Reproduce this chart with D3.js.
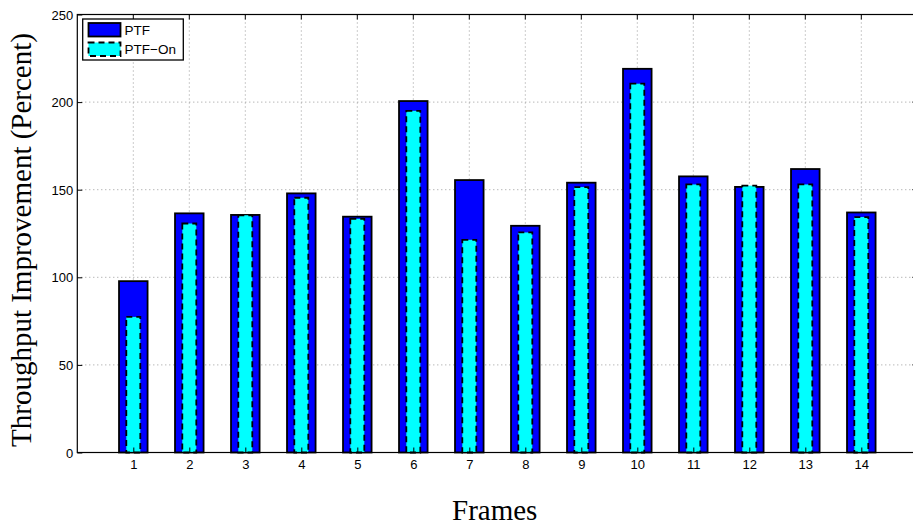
<!DOCTYPE html>
<html>
<head>
<meta charset="utf-8">
<script src="https://cdn.jsdelivr.net/npm/d3@7"></script>
<style>
  body { margin: 0; background: #fff; }
  svg { display: block; }
</style>
</head>
<body>
<div id="chart"></div>
<script>
// data
var frames = [1, 2, 3, 4, 5, 6, 7, 8, 9, 10, 11, 12, 13, 14];
var ptf = [97.8, 136.5, 135.6, 147.9, 134.6, 200.6, 155.5, 129.4, 154, 219, 157.6, 151.6, 161.8, 137];
var ptfOn = [77.4, 130.7, 135.4, 145.4, 133.4, 195, 121.4, 125.6, 151.5, 210.5, 153, 152.3, 153, 134.4];
var yTicks = [0, 50, 100, 150, 200, 250];
var seriesNames = ["PTF", "PTF\u2212On"];

var width = 913, height = 529;
var plotL = 77.3, plotT = 14.5, plotB = 452.5;
var plotR = plotL + 15 * 56; // box edge runs past the window

var svg = d3.select("#chart").append("svg")
    .attr("width", width)
    .attr("height", height);

var x = d3.scaleLinear().domain([0, 15]).range([plotL, plotR]);
var y = d3.scaleLinear().domain([0, 250]).range([plotB, plotT]);

// dotted grid
var grid = svg.append("g")
    .attr("stroke", "#999")
    .attr("stroke-width", 1)
    .attr("stroke-dasharray", "1,3");
grid.selectAll("line.gx")
    .data(frames)
    .enter().append("line")
    .attr("x1", d => x(d)).attr("x2", d => x(d))
    .attr("y1", plotT).attr("y2", plotB);
grid.selectAll("line.gy")
    .data(yTicks.slice(1))
    .enter().append("line")
    .attr("y1", d => y(d)).attr("y2", d => y(d))
    .attr("x1", plotL).attr("x2", plotR);

// PTF bars
var barW = 0.51 * 56, innerW = 0.25 * 56;
svg.append("g")
    .selectAll("rect")
    .data(ptf)
    .enter().append("rect")
    .attr("x", (d, i) => x(frames[i]) - barW / 2)
    .attr("y", d => y(d))
    .attr("width", barW)
    .attr("height", d => y(0) - y(d))
    .attr("fill", "#0000ff")
    .attr("stroke", "#000")
    .attr("stroke-width", 1.8);

// PTF-On bars, dashed outline
svg.append("g")
    .selectAll("rect")
    .data(ptfOn)
    .enter().append("rect")
    .attr("x", (d, i) => x(frames[i]) - innerW / 2)
    .attr("y", d => y(d))
    .attr("width", innerW)
    .attr("height", d => y(0) - y(d))
    .attr("fill", "#00ffff")
    .attr("stroke", "#000")
    .attr("stroke-width", 1.8)
    .attr("stroke-dasharray", "6,4");

// axes
var xAxis = d3.axisBottom(x).tickValues(frames).tickSizeInner(-5).tickSizeOuter(0).tickPadding(7);
var yAxis = d3.axisLeft(y).tickValues(yTicks).tickSizeInner(-5).tickSizeOuter(0).tickPadding(4);

var gx = svg.append("g").attr("transform", "translate(0," + plotB + ")").call(xAxis);
var gy = svg.append("g").attr("transform", "translate(" + plotL + ",0)").call(yAxis);
[gx, gy].forEach(function (g) {
    g.select(".domain").remove();
    g.selectAll("text")
        .attr("font-family", "Liberation Sans, Arial, sans-serif")
        .attr("font-size", 13)
        .attr("fill", "#000");
    g.selectAll("line").attr("stroke", "#000");
});
gx.selectAll("text").attr("dy", "0.75em");
gy.selectAll("text").attr("dy", "0.35em");

// top / right ticks (box)
svg.append("g").selectAll("line")
    .data(frames)
    .enter().append("line")
    .attr("x1", d => x(d)).attr("x2", d => x(d))
    .attr("y1", plotT).attr("y2", plotT + 5)
    .attr("stroke", "#000");
svg.append("g").selectAll("line")
    .data(yTicks)
    .enter().append("line")
    .attr("y1", d => y(d)).attr("y2", d => y(d))
    .attr("x1", plotR - 5).attr("x2", plotR)
    .attr("stroke", "#000");

svg.append("rect")
    .attr("x", plotL).attr("y", plotT)
    .attr("width", plotR - plotL).attr("height", plotB - plotT)
    .attr("fill", "none")
    .attr("stroke", "#000")
    .attr("stroke-width", 1.2);

// axis titles
svg.append("text")
    .attr("x", 494.7)
    .attr("y", 519.5)
    .attr("text-anchor", "middle")
    .attr("font-family", "Liberation Serif, Times New Roman, serif")
    .attr("font-size", 29)
    .text("Frames");
svg.append("text")
    .attr("transform", "translate(31,240) rotate(-90)")
    .attr("text-anchor", "middle")
    .attr("font-family", "Liberation Serif, Times New Roman, serif")
    .attr("font-size", 29)
    .text("Throughput Improvement (Percent)");

// legend
var legend = svg.append("g");
legend.append("rect")
    .attr("x", 82.7).attr("y", 19)
    .attr("width", 100.6).attr("height", 41)
    .attr("fill", "#fff")
    .attr("stroke", "#000")
    .attr("stroke-width", 1.3);
var patchFill = ["#0000ff", "#00ffff"];
var patchDash = [null, "6,4"];
seriesNames.forEach(function (name, i) {
    var py = 23 + i * 19.5;
    legend.append("rect")
        .attr("x", 88.5).attr("y", py)
        .attr("width", 32).attr("height", 13.5)
        .attr("fill", patchFill[i])
        .attr("stroke", "#000")
        .attr("stroke-width", 1.8)
        .attr("stroke-dasharray", patchDash[i]);
    legend.append("text")
        .attr("x", 124.5).attr("y", py + 7)
        .attr("dy", "0.35em")
        .attr("font-family", "Liberation Sans, Arial, sans-serif")
        .attr("font-size", 13.5)
        .text(name);
});
</script>
</body>
</html>
